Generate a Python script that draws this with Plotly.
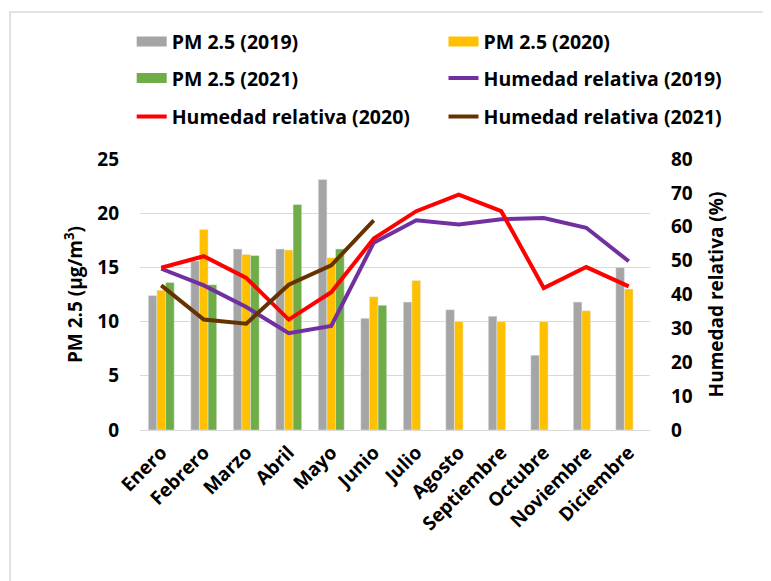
import plotly.graph_objects as go

meses = ["Enero", "Febrero", "Marzo", "Abril", "Mayo", "Junio", "Julio",
         "Agosto", "Septiembre", "Octubre", "Noviembre", "Diciembre"]

pm_2019 = [12.4, 15.6, 16.7, 16.7, 23.1, 10.3, 11.8, 11.1, 10.5, 6.9, 11.8, 15.0]
pm_2020 = [12.9, 18.5, 16.2, 16.6, 15.9, 12.3, 13.8, 10.0, 10.0, 10.0, 11.0, 13.0]
pm_2021 = [13.6, 13.4, 16.1, 20.8, 16.7, 11.5, None, None, None, None, None, None]

hr_2019 = [47.6, 42.7, 36.3, 28.6, 30.7, 55.3, 61.9, 60.7, 62.2, 62.6, 59.7, 49.8]
hr_2020 = [47.9, 51.3, 44.9, 32.6, 40.7, 56.5, 64.6, 69.5, 64.6, 41.9, 48.1, 42.4]
hr_2021 = [42.7, 32.6, 31.4, 42.9, 48.6, 61.9, None, None, None, None, None, None]

FONT = "'Open Sans', Lato, sans-serif"
TICK = dict(family=FONT, size=19, color="#000000", weight="bold")
LEGF = dict(family=FONT, size=19.5, color="#000000", weight="bold")
TITLEF = dict(family=FONT, size=19, color="#000000", weight="bold")

C19, C20, C21 = "#A5A5A5", "#FFC000", "#70AD47"

fig = go.Figure()
fig.add_trace(go.Bar(x=meses, y=pm_2019, name="PM 2.5 (2019)", marker_color=C19, showlegend=False))
fig.add_trace(go.Bar(x=meses, y=pm_2020, name="PM 2.5 (2020)", marker_color=C20, showlegend=False))
fig.add_trace(go.Bar(x=meses, y=pm_2021, name="PM 2.5 (2021)", marker_color=C21, showlegend=False))

# legend entries drawn as wide rectangles like the reference
def proxy(name, color, leg):
    return go.Scatter(x=[None], y=[None], name=name, mode="lines",
                      line=dict(color=color, width=10), legend=leg, hoverinfo="skip")

fig.add_trace(proxy("PM 2.5 (2019)", C19, "legend"))
fig.add_trace(proxy("PM 2.5 (2020)", C20, "legend2"))
fig.add_trace(proxy("PM 2.5 (2021)", C21, "legend3"))
fig.add_trace(go.Scatter(x=meses, y=hr_2019, name="Humedad relativa (2019)", mode="lines",
                         line=dict(color="#7030A0", width=4), yaxis="y2", legend="legend4"))
fig.add_trace(go.Scatter(x=meses, y=hr_2020, name="Humedad relativa (2020)", mode="lines",
                         line=dict(color="#FF0000", width=4), yaxis="y2", legend="legend5"))
fig.add_trace(go.Scatter(x=meses, y=hr_2021, name="Humedad relativa (2021)", mode="lines",
                         line=dict(color="#663300", width=4), yaxis="y2", legend="legend6"))

leg_common = dict(orientation="h", xanchor="left", yanchor="middle",
                  xref="container", yref="container",
                  font=LEGF, bgcolor="rgba(0,0,0,0)")

def ly(px):
    return 1 - (px - 8) / 581

def lx(text_px):
    return (text_px - 49) / 771

COL1, COL2 = 172.7, 484.5
ROW1, ROW2, ROW3 = 41.7, 78.3, 116.7

fig.update_layout(
    width=771, height=581,
    margin=dict(l=132, r=129, t=151, b=159, autoexpand=False),
    paper_bgcolor="white", plot_bgcolor="white",
    barmode="group", bargap=0.39, bargroupgap=0,
    font=TICK,
    xaxis=dict(tickangle=-45, tickfont=TICK, showgrid=False, showline=True,
               linecolor="#D9D9D9", linewidth=1, ticks="", ticklabelstandoff=3),
    yaxis=dict(range=[0, 25], dtick=5, showgrid=True, gridcolor="#D9D9D9", gridwidth=1,
               zeroline=False, tickfont=TICK, ticklabelstandoff=20,
               title=dict(text="PM 2.5 (µg/m<sup>3</sup>)", font=TITLEF, standoff=9)),
    yaxis2=dict(range=[0, 80], dtick=10, overlaying="y", side="right", showgrid=False,
                zeroline=False, tickfont=TICK, ticklabelstandoff=20,
                title=dict(text="Humedad relativa (%)", font=TITLEF, standoff=17)),
    legend=dict(x=lx(COL1), y=ly(ROW1), **leg_common),
    legend2=dict(x=lx(COL2), y=ly(ROW1), **leg_common),
    legend3=dict(x=lx(COL1), y=ly(ROW2), **leg_common),
    legend4=dict(x=lx(COL2), y=ly(ROW2), **leg_common),
    legend5=dict(x=lx(COL1), y=ly(ROW3), **leg_common),
    legend6=dict(x=lx(COL2), y=ly(ROW3), **leg_common),
    shapes=[dict(type="rect", xref="paper", yref="paper",
                 x0=(2 - 132) / 510, x1=(800 - 132) / 510,
                 y0=(422 - 600) / 271, y1=(422 - 4) / 271,
                 line=dict(color="#D9D9D9", width=1.5), fillcolor="rgba(0,0,0,0)", layer="below")],
)

fig.write_html("out.html")
